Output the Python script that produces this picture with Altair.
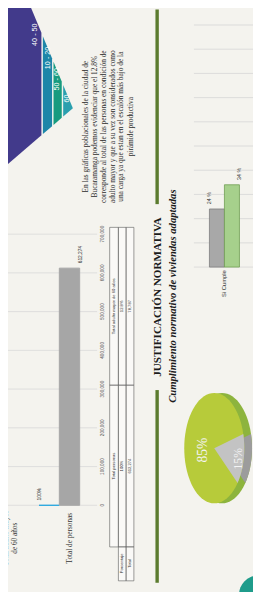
import math
import altair as alt
import pandas as pd

# ---------------- data ----------------
pop_categories = ["Total adulto mayor de 60 años", "Total de personas"]
pop_cat_labels = ["Total adulto mayor\nde 60 años", "Total de personas"]
pop_percent = [0.128, 1.0]
pop_total = [78787, 612274]
pop_ticks = [0, 100000, 200000, 300000, 400000, 500000, 600000, 700000]

table_col_names = ["Total adulto mayor de 60 años", "Total personas"]
table_row_headers = ["Porcentaje", "Total"]

pyramid_labels = ["40 - 50", "10 - 20", "50 - 60", "60"]
pyramid_colors = ["#423a8b", "#1d86a8", "#179b7f", "#2a9fae"]

paragraph_lines = [
    "En las gráficas poblacionales de la ciudad de",
    "Bucaramanga podemos evidenciar que el 12.8%",
    "corresponde al total de las personas en condición de",
    "adulto mayor y que a su vez son considerados como",
    "una carga ya que estan en el escalón más bajo de la",
    "pirámide productiva",
]
heading = "JUSTIFICACIÓN NORMATIVA"
subheading = "Cumplimiento normativo de viviendas adaptadas"

comp_categories = ["Si Cumple"]
comp_series = ["Serie 1", "Serie 2"]
comp_values = [24, 34]
comp_ticks = [0, 10, 20, 30, 40, 50, 60, 70, 80, 90, 100]

pie_labels = ["85%", "15%"]
pie_values = [85, 15]

# ---------------- layout (image pixels) ----------------
M = 8
PAGE_X = alt.Scale(domain=[0, 261], range=[-M, 261 - M])
PAGE_Y = alt.Scale(domain=[0, 592], range=[-M, 592 - M])
SERIF = "Liberation Serif"
SANS = "Liberation Sans"


def px(v):
    return v - M


def page_enc(ch, xf="x", yf="y"):
    return ch.encode(
        x=alt.X(f"{xf}:Q", scale=PAGE_X, axis=None),
        y=alt.Y(f"{yf}:Q", scale=PAGE_Y, axis=None),
    )


layers = []

# ---- pyramid ----
APEX = (75, 102)
UP_SLOPE, LO_SLOPE = 2.4, 0.86
band_x = [(0, 42.5), (44, 53.5), (55, 63.5), (65, 75)]
pyr_rows = []
for lab, (a, b) in zip(pyramid_labels, band_x):
    for xx in (a, b):
        d = APEX[0] - xx
        pyr_rows.append(dict(band=lab, x=xx, ytop=APEX[1] - UP_SLOPE * d, ybot=APEX[1] + LO_SLOPE * d))
pyr = alt.Chart(pd.DataFrame(pyr_rows)).mark_area(orient="vertical", opacity=1).encode(
    x=alt.X("x:Q", scale=PAGE_X, axis=None),
    y=alt.Y("ytop:Q", scale=PAGE_Y, axis=None, stack=None),
    y2="ybot:Q",
    color=alt.Color("band:N", scale=alt.Scale(domain=pyramid_labels, range=pyramid_colors), legend=None),
)
layers.append(pyr)
pyr_lab_pos = [(36, 26), (49, 50), (59, 72), (69, 92)]
pyr_lab = pd.DataFrame([dict(text=t, x=p[0], y=p[1]) for t, p in zip(pyramid_labels, pyr_lab_pos)])
layers.append(page_enc(alt.Chart(pyr_lab).mark_text(angle=270, color="white", font=SANS, fontSize=7.5,
                                                     align="center", baseline="middle")).encode(text="text:N"))

# ---- paragraph ----
para_x = [89, 98, 107, 116, 125, 135]
para = pd.DataFrame([dict(text=t, x=xx, y=121) for t, xx in zip(paragraph_lines, para_x)])
layers.append(page_enc(alt.Chart(para).mark_text(angle=270, color="#2b2b2b", font=SERIF, fontSize=7.6,
                                                  align="center", baseline="middle")).encode(text="text:N"))

# ---- main population bar chart ----
Y_POP = alt.Scale(domain=[0, 700000], range=[px(512), px(232)], nice=False, zero=False)
X_POP = alt.Scale(domain=pop_categories, range=[px(-54.5), px(99.5)], paddingInner=0.4545, paddingOuter=0.2273)
XOFF_POP = alt.Scale(domain=["Porcentaje", "Total"], paddingInner=0, paddingOuter=0)
COL_KEYS = [f"{pop_categories[0]}|Porcentaje", f"{pop_categories[0]}|Total",
            f"{pop_categories[1]}|Porcentaje", f"{pop_categories[1]}|Total"]
COL_POP = alt.Scale(domain=COL_KEYS, range=["#27a8e0", "#a9d18e", "#27a8e0", "#a6a6a6"])

rows = []
for c, p, t in zip(pop_categories, pop_percent, pop_total):
    rows.append(dict(category=c, series="Porcentaje", value=p, label=f"{p*100:g}%", key=f"{c}|Porcentaje"))
    rows.append(dict(category=c, series="Total", value=t, label=f"{t:,}", key=f"{c}|Total"))
pop_df = pd.DataFrame(rows)

grid = pd.DataFrame({"v": pop_ticks})
layers.append(alt.Chart(grid).mark_rule(color="#d8d8d8", strokeWidth=0.8).encode(
    y=alt.Y("v:Q", scale=Y_POP, axis=None), x=alt.value(px(0)), x2=alt.value(px(100))))
layers.append(alt.Chart(grid).mark_text(angle=270, fontSize=4.8, font=SANS, color="#555",
                                         align="center", baseline="middle").encode(
    y=alt.Y("v:Q", scale=Y_POP, axis=None), x=alt.value(px(106)), text=alt.Text("v:Q", format=",")))

layers.append(alt.Chart(pop_df).mark_bar(strokeWidth=1).encode(
    x=alt.X("category:N", scale=X_POP, axis=None),
    xOffset=alt.XOffset("series:N", scale=XOFF_POP),
    y=alt.Y("value:Q", scale=Y_POP, axis=None),
    color=alt.Color("key:N", scale=COL_POP, legend=None),
    stroke=alt.Stroke("key:N", scale=COL_POP, legend=None),
))
# value labels (only the group that lies inside the page is labelled in the reference)
layers.append(alt.Chart(pop_df).transform_filter(
    alt.datum.category == pop_categories[1]
).mark_text(angle=270, fontSize=5, font=SANS, color="#333", align="left", baseline="middle").encode(
    x=alt.X("category:N", scale=X_POP, axis=None),
    xOffset=alt.XOffset("series:N", scale=XOFF_POP),
    y=alt.Y("value:Q", scale=Y_POP, axis=None),
    yOffset=alt.value(-5),
    text="label:N",
))
cat_df = pd.DataFrame({"category": pop_categories, "label": pop_cat_labels})
for cat, off in [(pop_categories[0], 22.5), (pop_categories[1], 11)]:
    layers.append(alt.Chart(cat_df).transform_filter(alt.datum.category == cat).mark_text(
        angle=270, fontSize=7.5, font=SERIF, color="#333", align="center", baseline="middle",
        lineBreak="\n", lineHeight=9).encode(
        x=alt.X("category:N", scale=X_POP, axis=None),
        xOffset=alt.value(off),
        y=alt.value(px(546)),
        text="label:N",
    ))

# ---- data table ----
col_y = [(225, 388), (388, 555)]
row_x = [(113, 122), (122, 130), (130, 138)]
cells, texts = [], []
pct_txt = [f"{p*100:g}%" for p in pop_percent]
tot_txt = [f"{t:,}" for t in pop_total]
for ci, (y0, y1) in enumerate(col_y):
    vals = [table_col_names[ci], pct_txt[ci], tot_txt[ci]]
    for ri, (x0, x1) in enumerate(row_x):
        cells.append(dict(x=x0, x2=x1, y=y0, y2=y1))
        texts.append(dict(text=vals[ri], x=(x0 + x1) / 2, y=(y0 + y1) / 2))
for ri, h in enumerate(table_row_headers):
    x0, x1 = row_x[ri + 1]
    cells.append(dict(x=x0, x2=x1, y=555, y2=590))
    texts.append(dict(text=h, x=(x0 + x1) / 2, y=572))
layers.append(alt.Chart(pd.DataFrame(cells)).mark_rect(fill="#ffffff", fillOpacity=0.5, stroke="#555",
                                                       strokeWidth=0.6).encode(
    x=alt.X("x:Q", scale=PAGE_X, axis=None), x2="x2:Q",
    y=alt.Y("y:Q", scale=PAGE_Y, axis=None), y2="y2:Q"))
layers.append(page_enc(alt.Chart(pd.DataFrame(texts)).mark_text(angle=270, fontSize=4.3, font=SANS,
                                                                 color="#333", align="center",
                                                                 baseline="middle")).encode(text="text:N"))

# ---- divider line + headings ----
seg = pd.DataFrame([dict(x=162, y=0, y2=201), dict(x=162, y=393, y2=592)])
layers.append(alt.Chart(seg).mark_rule(color="#5b7b2e", strokeWidth=3.5).encode(
    x=alt.X("x:Q", scale=PAGE_X, axis=None),
    y=alt.Y("y:Q", scale=PAGE_Y, axis=None), y2="y2:Q"))
head = pd.DataFrame([dict(text=heading, x=163, y=297)])
layers.append(page_enc(alt.Chart(head).mark_text(angle=270, fontSize=11.5, font=SERIF, fontWeight="bold",
                                                  color="#1b1b1b", align="center",
                                                  baseline="middle")).encode(text="text:N"))
sub = pd.DataFrame([dict(text=subheading, x=178, y=296)])
layers.append(page_enc(alt.Chart(sub).mark_text(angle=270, fontSize=11, font=SERIF, fontWeight="bold",
                                                 fontStyle="italic", color="#1b1b1b", align="center",
                                                 baseline="middle")).encode(text="text:N"))

# ---- compliance bar chart ----
Y_COMP = alt.Scale(domain=[0, 100], range=[px(266), px(16)], nice=False)
X_COMP = alt.Scale(domain=comp_categories, range=[px(216), px(247)], paddingInner=0, paddingOuter=0)
XOFF_COMP = alt.Scale(domain=comp_series, paddingInner=0, paddingOuter=0)
comp_df = pd.DataFrame({"category": comp_categories * 2, "series": comp_series, "value": comp_values,
                        "label": [f"{v} %" for v in comp_values]})
cgrid = pd.DataFrame({"v": comp_ticks})
layers.append(alt.Chart(cgrid).mark_rule(color="#d6d6d6", strokeWidth=0.8).encode(
    y=alt.Y("v:Q", scale=Y_COMP, axis=None), x=alt.value(px(200)), x2=alt.value(px(262))))
layers.append(alt.Chart(comp_df).mark_bar(strokeWidth=0.8).encode(
    x=alt.X("category:N", scale=X_COMP, axis=None),
    xOffset=alt.XOffset("series:N", scale=XOFF_COMP),
    y=alt.Y("value:Q", scale=Y_COMP, axis=None),
    color=alt.Color("series:N", scale=alt.Scale(domain=comp_series, range=["#a8a8a8", "#a6d08c"]), legend=None),
    stroke=alt.Stroke("series:N", scale=alt.Scale(domain=comp_series, range=["#7d7d7d", "#6f9e52"]), legend=None),
))
layers.append(alt.Chart(comp_df).mark_text(angle=270, fontSize=5.5, font=SANS, color="#333",
                                            align="left", baseline="middle").encode(
    x=alt.X("category:N", scale=X_COMP, axis=None),
    xOffset=alt.XOffset("series:N", scale=XOFF_COMP),
    y=alt.Y("value:Q", scale=Y_COMP, axis=None),
    yOffset=alt.value(-5),
    text="label:N"))
layers.append(alt.Chart(pd.DataFrame({"category": comp_categories})).mark_text(
    angle=270, fontSize=6, font=SANS, color="#333", align="center", baseline="middle").encode(
    x=alt.X("category:N", scale=X_COMP, axis=None),
    y=alt.value(px(283)),
    text="category:N"))

# ---- pie (3D ellipse look) ----
PIE_C = (221, 453)
PIE_RX, PIE_RY = 31, 57
DEPTH = 8
START_DEG = -15


def ellipse_path(rxn, n=72):
    pts = [(rxn * math.cos(2 * math.pi * i / n), math.sin(2 * math.pi * i / n)) for i in range(n)]
    return "M" + " L".join(f"{a:.4f},{b:.4f}" for a, b in pts) + " Z"


def wedge_path(rxn, a0, a1, n=30):
    pts = []
    for i in range(n + 1):
        t = math.radians(a0 + (a1 - a0) * i / n)
        pts.append((rxn * math.cos(t), math.sin(t)))
    return "M0,0 L" + " L".join(f"{a:.4f},{b:.4f}" for a, b in pts) + " Z"


rxn = PIE_RX / PIE_RY
span = 360 * pie_values[1] / sum(pie_values)
size = (2 * PIE_RY) ** 2
ell = ellipse_path(rxn)
wed = wedge_path(rxn, START_DEG, START_DEG + span)
for cx, shape, col in [(PIE_C[0] + DEPTH, ell, "#8db43d"), (PIE_C[0] + DEPTH, wed, "#9c9c9c"),
                       (PIE_C[0], ell, "#b7cb3a"), (PIE_C[0], wed, "#c3c3c3")]:
    layers.append(page_enc(alt.Chart(pd.DataFrame([dict(x=cx, y=PIE_C[1])])).mark_point(
        shape=shape, size=size, filled=True, opacity=1, color=col, strokeWidth=0)))
pie_lab = pd.DataFrame([dict(text=pie_labels[0], x=210, y=455, s=14), dict(text=pie_labels[1], x=246, y=464, s=12)])
layers.append(page_enc(alt.Chart(pie_lab).mark_text(angle=270, font=SERIF, color="#f4f4f4",
                                                     align="center", baseline="middle")).encode(
    text="text:N", size=alt.Size("s:Q", scale=None, legend=None)))

# teal shape at the bottom-right corner
layers.append(page_enc(alt.Chart(pd.DataFrame([dict(x=266, y=604)])).mark_point(
    shape="circle", size=1500, filled=True, opacity=1, color="#1f9c8b", strokeWidth=0)))

chart = alt.layer(*layers).resolve_scale(
    x="independent", y="independent", color="independent", stroke="independent",
    xOffset="independent", size="independent",
).properties(
    width=261 - M, height=592 - M, padding=0,
    autosize=alt.AutoSizeParams(type="none"), background="#f4f3ee",
).configure_view(strokeWidth=0)

chart.save("out.html", embed_options={"renderer": "svg", "actions": False})
